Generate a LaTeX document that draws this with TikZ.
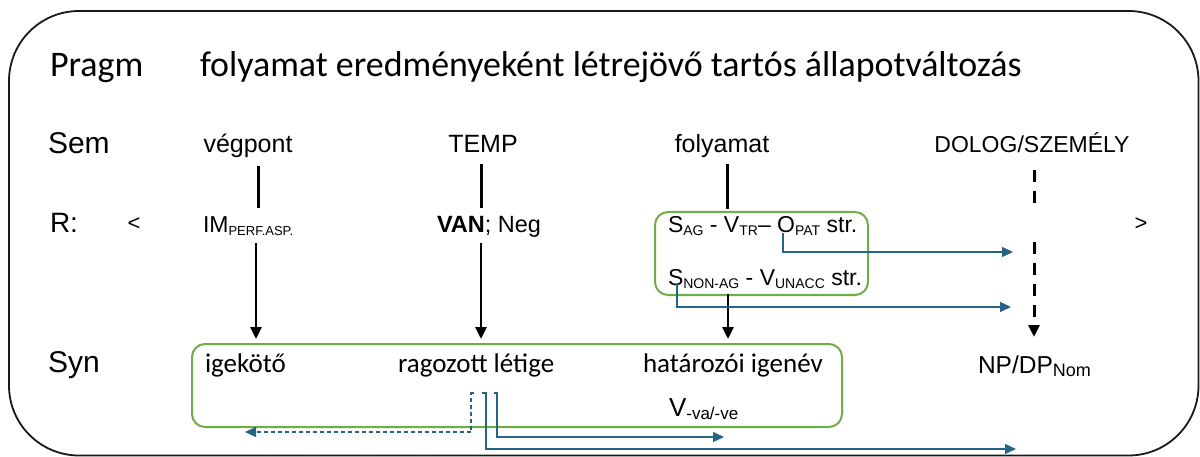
\documentclass[tikz,border=0pt]{standalone}
\usepackage{fontspec}
\setmainfont{Liberation Sans}
\newfontfamily\condf{Carlito}
\usetikzlibrary{arrows.meta}
\newcommand{\fsz}[1]{\fontsize{#1}{#1}\selectfont}
\newcommand{\sbx}[2]{\raisebox{-3pt}{\fontsize{#1}{#1}\selectfont #2}}
\definecolor{grn}{RGB}{112,173,71}
\definecolor{blu}{RGB}{38,100,135}
\begin{document}
\begin{tikzpicture}[x=1pt,y=-1pt,
  txt/.style={anchor=base west,inner sep=0pt,outer sep=0pt},
  ctxt/.style={anchor=base,inner sep=0pt,outer sep=0pt},
  bar/.style={line width=3pt},
  arr/.style={line width=2.8pt,-{Triangle[length=12pt,width=11pt]}},
  dsh/.style={line width=3pt,dash pattern=on 12pt off 9pt},
  dsharr/.style={line width=3pt,dash pattern=on 12pt off 9pt,-{Triangle[length=12pt,width=11pt]}},
  barr/.style={draw=blu,line width=1.4pt,-{Triangle[length=11pt,width=10pt,fill=blu]}},
  bdarr/.style={draw=blu,line width=1.2pt,dash pattern=on 4pt off 3pt,-{Triangle[length=11pt,width=10pt,fill=blu]}},
  gbox/.style={draw=grn,line width=2pt,rounded corners=13pt,inner sep=0pt,anchor=north west}]
\useasboundingbox (0,0) rectangle (1200,457);
\draw[line width=1.8pt,rounded corners=70pt,draw=black!90] (9,11) rectangle (1198.5,455.5);

% row labels
\node[txt] (pragm) at (50,77) {\condf\fsz{36}Pragm};
\node[txt] (sem) at (48,154) {\fsz{30}Sem};
\node[txt] (r) at (50,233) {\fsz{28}R:};
\node[txt] (syn) at (48,372) {\fsz{30}Syn};

% pragm
\node[txt] (ptext) at (200,77) {\condf\fsz{35.9}folyamat eredményeként létrejövő tartós állapotváltozás};

% sem row
\node[ctxt] (s1) at (248,153) {\fsz{25}végpont};
\node[ctxt] (s2) at (483,153) {\fsz{25}TEMP};
\node[ctxt] (s3) at (722,153) {\fsz{25}folyamat};
\node[ctxt] (s4) at (1032,153) {\fsz{23}DOLOG/SZEMÉLY};

% R row
\node[ctxt] (lt) at (134,231) {\fsz{22}<};
\node[ctxt] (gt) at (1141,231) {\fsz{22}>};
\node[txt] (r1) at (203,233) {\fsz{23}IM\sbx{13}{PERF.ASP.}};
\node[txt] (r2) at (437,233) {\fsz{23.5}\textbf{VAN}; Neg};
\node[gbox,minimum width=213pt,minimum height=83pt] (g1) at (654,211) {};
\node[txt] (r3a) at (668,233) {\fsz{23}S\sbx{14}{AG} - V\sbx{14}{TR}– O\sbx{14}{PAT} str.};
\node[txt] (r3b) at (668,286) {\fsz{23}S\sbx{14}{NON-AG} - V\sbx{14}{UNACC} str.};

% Syn row
\node[gbox,minimum width=650pt,minimum height=83pt] (g2) at (191,343) {};
\node[txt] (y1) at (205,372) {\condf\fsz{27}igekötő};
\node[txt] (y2) at (398,372) {\condf\fsz{27}ragozott létige};
\node[txt] (y3) at (643,372) {\condf\fsz{27}határozói igenév};
\node[txt] (y3b) at (669,416) {\fsz{26}V\sbx{17}{-va/-ve}};
\node[txt] (y4) at (978,373) {\fsz{24.5}NP/DP\sbx{18}{Nom}};

% connector end points
\coordinate (b1t) at (258,166); \coordinate (b1b) at (258,208);
\coordinate (b2t) at (481,164); \coordinate (b2b) at (481,208);
\coordinate (b3t) at (727,164); \coordinate (b3b) at (727,209);
\coordinate (d1t) at (1034,170); \coordinate (d1b) at (1034,208);
\coordinate (a1t) at (256,243); \coordinate (a1b) at (256,339);
\coordinate (a2t) at (481,243); \coordinate (a2b) at (481,339);
\coordinate (a3t) at (728,294); \coordinate (a3b) at (728,339);
\coordinate (d2t) at (1034,242); \coordinate (d2b) at (1034,337);

\draw[bar] (b1t) -- (b1b);
\draw[bar] (b2t) -- (b2b);
\draw[bar] (b3t) -- (b3b);
\draw[dsh] (d1t) -- (d1b);
\draw[arr] (a1t) -- (a1b);
\draw[arr] (a2t) -- (a2b);
\draw[arr] (a3t) -- (a3b);
\draw[dsharr] (d2t) -- (d2b);

% blue connectors in R box
\coordinate (o1) at (783,233); \coordinate (o1e) at (1013,252);
\coordinate (o2) at (677,284); \coordinate (o2e) at (1011,307);
\draw[barr] (o1) |- (o1e);
\draw[barr] (o2) |- (o2e);

% blue connectors from ragozott létige
\coordinate (q1) at (473.5,393); \coordinate (q1e) at (245,432);
\coordinate (q2) at (482,393); \coordinate (q2e) at (1016,449);
\coordinate (q3) at (494,393); \coordinate (q3e) at (724,437);
\draw[bdarr] (q1) -- ++(-2.5,0) |- (q1e);
\draw[barr] (q2) -- ++(4,0) |- (q2e);
\draw[barr] (q3) -- ++(3,0) |- (q3e);
\end{tikzpicture}
\end{document}
